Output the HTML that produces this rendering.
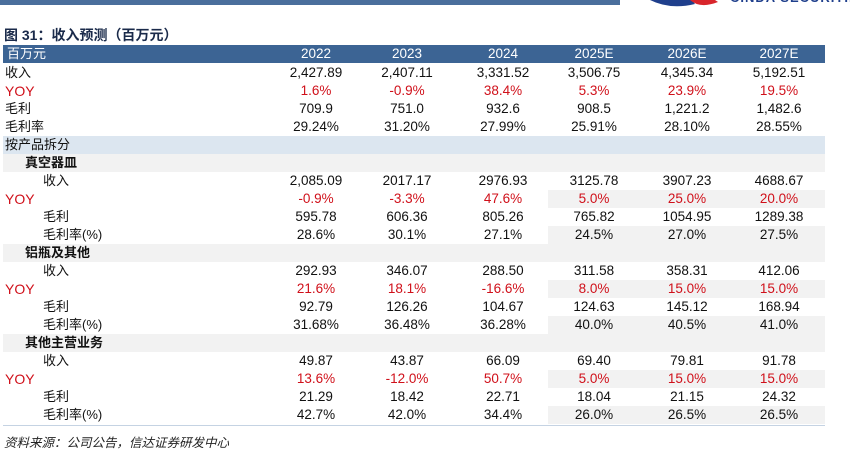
<!DOCTYPE html>
<html><head><meta charset="utf-8"><style>
body{margin:0;width:850px;height:451px;background:#fff;position:relative;overflow:hidden;font-family:"Liberation Sans","Noto Sans CJK SC",sans-serif;}
.a{position:absolute;}
.row{position:absolute;left:3px;width:822px;height:18px;}
.c{position:absolute;top:0;height:18px;line-height:18px;font-size:13.5px;color:#111;text-align:center;width:90px;margin-left:-45px;}
.l{position:absolute;top:0;height:18px;line-height:18px;font-size:13px;color:#111;white-space:nowrap;}
.red{color:#d0101a!important;}
</style></head><body>
<div class="a" style="left:0;top:0;width:620px;height:5px;background:#4a6f9c"></div>
<svg class="a" style="left:640px;top:0" width="90" height="10"><path d="M10 0 Q30 10 55 4 L52 0Z" fill="#1f3f8c"/><path d="M50 0 Q60 9 78 2 L75 0Z" fill="#d8252b"/></svg>
<div class="a" style="left:730px;top:-9px;font-size:13px;font-weight:bold;color:#1f3f8c;letter-spacing:1px;white-space:nowrap;line-height:13px">CINDA SECURITIES</div>
<div class="a" style="left:4px;top:25px;font-size:14px;font-weight:bold;color:#1a2a4a">图 31：收入预测（百万元）</div>
<div id="t"></div>
<div class="a" style="left:3px;top:425px;width:822px;height:1px;background:#c5d3e3"></div>
<div class="a" style="left:4px;top:432px;font-size:12.5px;font-style:italic;color:#222">资料来源：公司公告，信达证券研发中心</div>
<script>
const cols=[316,407,503,594,687,779];
const years=["2022","2023","2024","2025E","2026E","2027E"];
const rows=[
["收入",0,"n",["2,427.89","2,407.11","3,331.52","3,506.75","4,345.34","5,192.51"]],
["YOY",0,"r",["1.6%","-0.9%","38.4%","5.3%","23.9%","19.5%"]],
["毛利",0,"n",["709.9","751.0","932.6","908.5","1,221.2","1,482.6"]],
["毛利率",0,"n",["29.24%","31.20%","27.99%","25.91%","28.10%","28.55%"]],
["按产品拆分",0,"s",[]],
["真空器皿",20,"g",[]],
["收入",38,"n",["2,085.09","2017.17","2976.93","3125.78","3907.23","4688.67"]],
["YOY",0,"rf",["-0.9%","-3.3%","47.6%","5.0%","25.0%","20.0%"]],
["毛利",38,"n",["595.78","606.36","805.26","765.82","1054.95","1289.38"]],
["毛利率(%)",38,"nf",["28.6%","30.1%","27.1%","24.5%","27.0%","27.5%"]],
["铝瓶及其他",20,"g",[]],
["收入",38,"n",["292.93","346.07","288.50","311.58","358.31","412.06"]],
["YOY",0,"rf",["21.6%","18.1%","-16.6%","8.0%","15.0%","15.0%"]],
["毛利",38,"n",["92.79","126.26","104.67","124.63","145.12","168.94"]],
["毛利率(%)",38,"nf",["31.68%","36.48%","36.28%","40.0%","40.5%","41.0%"]],
["其他主营业务",20,"g",[]],
["收入",38,"n",["49.87","43.87","66.09","69.40","79.81","91.78"]],
["YOY",0,"rf",["13.6%","-12.0%","50.7%","5.0%","15.0%","15.0%"]],
["毛利",38,"n",["21.29","18.42","22.71","18.04","21.15","24.32"]],
["毛利率(%)",38,"nf",["42.7%","42.0%","34.4%","26.0%","26.5%","26.5%"]]
];
const t=document.getElementById('t');
function mk(parent,cls,style,text){const d=document.createElement('div');d.className=cls;d.style.cssText=style;d.textContent=text;parent.appendChild(d);return d;}
const h=document.createElement('div');h.className='row';h.style.cssText='top:45px;background:#3c6494;';


t.appendChild(h);
const hl=mk(h,'l','left:4px;color:#fff;','百万元');


years.forEach((y,i)=>{const d=mk(h,'c','left:'+(cols[i]-3)+'px;color:#fff;',y);

});
rows.forEach((r,ri)=>{
 const top=64+ri*18;
 const d=document.createElement('div');d.className='row';
 let bg='';
 if(r[2]==='s')bg='background:#dce6f0;';
 if(r[2]==='g')bg='background:#f2f2f2;';
 d.style.cssText='top:'+top+'px;'+bg;
 
 
 t.appendChild(d);
 if(r[2]==='rf'||r[2]==='nf'){const s=mk(d,'a','left:545px;top:0;width:277px;height:18px;background:#f2f2f2;','');
 
 }
 const red=r[2][0]==='r';
 const bold=r[2]==='g';
 const lab=mk(d,'l'+(red?' red':''),'left:'+(2+r[1])+'px;'+(bold?'font-weight:bold;':'')+(red?'font-size:14px;':''),r[0]);
 
 
 r[3].forEach((v,i)=>{const c=mk(d,'c'+(red?' red':''),'left:'+(cols[i]-3)+'px;',v);
 
 });
});
</script>
</body></html>
